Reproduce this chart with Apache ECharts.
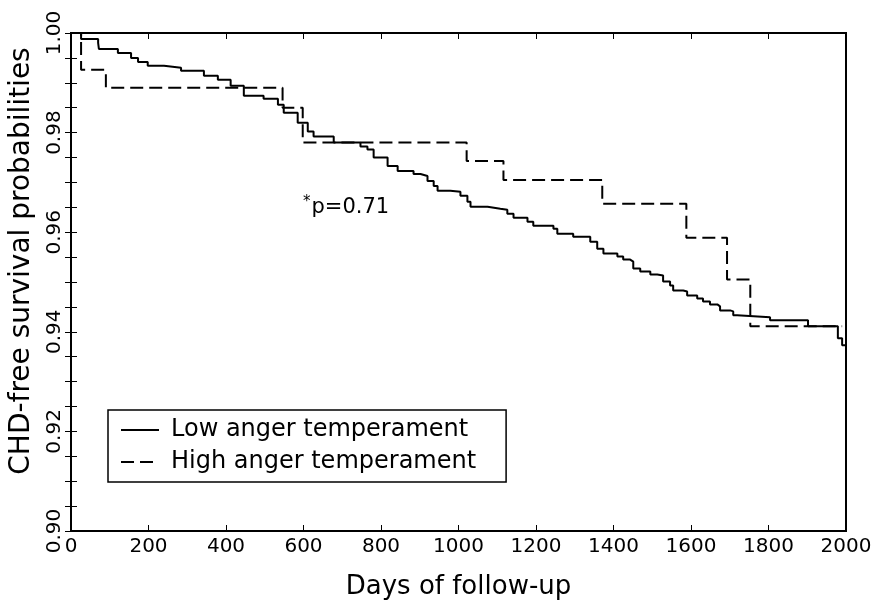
<!DOCTYPE html>
<html><head><meta charset="utf-8">
<script src="https://cdn.jsdelivr.net/npm/echarts@6/dist/echarts.min.js"></script>
<style>html,body{margin:0;padding:0;background:#fff}#c{width:878px;height:605px}</style>
</head><body><div id="c"></div>
<script>
// ---- data ----
const xTickLabels = ['0','200','400','600','800','1000','1200','1400','1600','1800','2000'];
const yTickLabels = ['0.90','0.92','0.94','0.96','0.98','1.00'];
const seriesNames = ['Low anger temperament', 'High anger temperament'];
const xTitle = 'Days of follow-up';
const yTitle = 'CHD-free survival probabilities';
const pText = 'p=0.71';

const lowDays = [0,26,70,72,121,155,173,198,240,284,343,379,412,446,497,534,549,585,611,626,678,747,765,781,817,843,884,902,920,936,946,979,1005,1023,1031,1075,1108,1126,1142,1178,1193,1245,1255,1296,1340,1358,1374,1410,1425,1443,1451,1469,1495,1513,1528,1546,1554,1580,1590,1616,1631,1649,1668,1675,1701,1709,1719,1804,1902,1979,1990,2000];
const lowSurv = [1.000,0.9988,0.9980,0.9968,0.9960,0.9950,0.9942,0.9934,0.9930,0.9924,0.9914,0.9906,0.9894,0.9874,0.9868,0.9856,0.9840,0.9820,0.9802,0.9792,0.9780,0.9772,0.9766,0.9750,0.9733,0.9723,0.9717,0.9713,0.9703,0.9693,0.9683,0.9681,0.9673,0.9661,0.9651,0.9647,0.9645,0.9637,0.9629,0.9621,0.9613,0.9607,0.9597,0.9591,0.9581,0.9567,0.9557,0.9551,0.9545,0.9541,0.9527,0.9521,0.9515,0.9513,0.9501,0.9493,0.9483,0.9481,0.9473,0.9467,0.9461,0.9455,0.9451,0.9443,0.9441,0.9433,0.9429,0.9423,0.9411,0.9387,0.9373,0.9363];

const highDays = [0,26,90,546,598,1021,1116,1371,1588,1693,1753,1990];
const highSurv = [1.000,0.9926,0.9890,0.9850,0.9780,0.9743,0.9705,0.9657,0.9589,0.9505,0.9411,0.9411];

// ---- chart ----
const FONT = 'DejaVu Sans';
const chart = echarts.init(document.getElementById('c'), null, {renderer: 'canvas'});
const zip = (a, b) => a.map((v, i) => [v, b[i]]);
const xMin = +xTickLabels[0], xMax = +xTickLabels[xTickLabels.length - 1];
const xInt = +xTickLabels[1] - +xTickLabels[0];
const yMin = +yTickLabels[0], yMax = +yTickLabels[yTickLabels.length - 1];
const yFmt = v => {
  const s = v.toFixed(2);
  return (yTickLabels.includes(s) && Math.abs(+s - v) < 1e-6) ? s : '';
};
const black = '#000';

chart.setOption({
  animation: false,
  backgroundColor: '#fff',
  grid: {left: 70, top: 33, width: 776, height: 501, show: true, borderColor: black, borderWidth: 2, backgroundColor: 'transparent'},
  xAxis: [{
    type: 'value', min: xMin, max: xMax, interval: xInt,
    axisLine: {show: true, lineStyle: {color: black, width: 2}},
    axisTick: {show: true, inside: true, length: 6, lineStyle: {color: black, width: 1}},
    splitLine: {show: false},
    axisLabel: {color: black, fontFamily: FONT, fontSize: 20, margin: 6, formatter: v => xTickLabels.includes(String(v)) ? String(v) : ''},
    name: xTitle, nameLocation: 'middle', nameGap: 43,
    nameTextStyle: {color: black, fontFamily: FONT, fontSize: 26}
  }, {
    type: 'value', position: 'top', min: xMin, max: xMax, interval: xInt,
    axisLine: {show: true, lineStyle: {color: black, width: 2}},
    axisTick: {show: true, inside: true, length: 6, lineStyle: {color: black, width: 1}},
    splitLine: {show: false}, axisLabel: {show: false}
  }],
  yAxis: [{
    type: 'value', min: yMin, max: yMax, interval: 0.005,
    axisLine: {show: true, lineStyle: {color: black, width: 2}},
    axisTick: {show: true, inside: true, length: 6, lineStyle: {color: black, width: 1}},
    splitLine: {show: false},
    axisLabel: {color: black, fontFamily: FONT, fontSize: 20, rotate: 90, margin: 6, formatter: yFmt, showMinLabel: true, showMaxLabel: true},
    name: yTitle, nameLocation: 'middle', nameGap: 35, nameRotate: 90,
    nameTextStyle: {color: black, fontFamily: FONT, fontSize: 28, padding: [0, 0, 0, 42]}
  }, {
    type: 'value', position: 'right', min: yMin, max: yMax, interval: 0.005,
    axisLine: {show: true, lineStyle: {color: black, width: 2}},
    axisTick: {show: true, inside: true, length: 6, lineStyle: {color: black, width: 1}},
    splitLine: {show: false}, axisLabel: {show: false}
  }],
  legend: {
    left: 108, top: 410, orient: 'vertical',
    borderColor: black, borderWidth: 1.5, borderRadius: 0,
    padding: [8, 30, 8, 12], itemGap: 8, itemWidth: 38, itemHeight: 22,
    itemStyle: {color: 'transparent', borderColor: 'transparent', borderWidth: 0, opacity: 0},
    textStyle: {color: black, fontFamily: FONT, fontSize: 24, padding: [0, 0, 0, 7]},
    data: seriesNames
  },
  graphic: [{
    type: 'text', left: 303, top: 195,
    style: {text: '{s|*}' + pText, fill: black, font: '21px "' + FONT + '"',
      rich: {s: {fontSize: 15, fontFamily: FONT, verticalAlign: 'top', padding: [0, 1, 10, 0]}}}
  }],
  series: [{
    name: seriesNames[0], type: 'line', step: 'end', showSymbol: false, symbol: 'none',
    data: zip(lowDays, lowSurv), lineStyle: {color: black, width: 2}, itemStyle: {color: black}
  }, {
    name: seriesNames[1], type: 'line', step: 'end', showSymbol: false, symbol: 'none',
    data: zip(highDays, highSurv), lineStyle: {color: black, width: 2, type: [13, 6]}, itemStyle: {color: black}
  }]
});
</script></body></html>
